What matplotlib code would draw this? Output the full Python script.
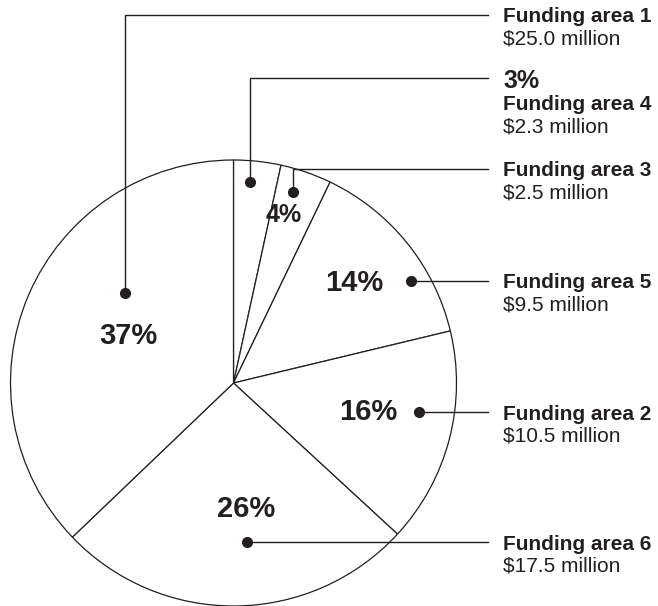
import matplotlib
matplotlib.use('Agg')
from matplotlib import pyplot as plt

plt.rcParams['font.family'] = ['Liberation Sans', 'DejaVu Sans']

# wedges in drawing order, clockwise from 12 o'clock
areas = ['Funding area 4', 'Funding area 3', 'Funding area 5',
         'Funding area 2', 'Funding area 6', 'Funding area 1']
amounts = [2.3, 2.5, 9.5, 10.5, 17.5, 25.0]
pct_labels = ['3%', '4%', '14%', '16%', '26%', '37%']
money_labels = ['$2.3 million', '$2.5 million', '$9.5 million',
                '$10.5 million', '$17.5 million', '$25.0 million']

INK = '#231f20'
W, H = 658, 606

# layout (pixel coords, y down)
pie_center = (233.5, 383)
pie_radius = 223
pct_pos = [None, (284, 215), (354, 283), (368, 412), (246, 509), (128, 336)]
pct_size = [18, 18, 21, 21, 21, 21]
dots = [(250, 182), (293, 192), (411, 281), (419, 412), (247, 542), (125, 293)]
line_y = [78, 169, 281, 412, 542, 15]
line_end = 488
text_x = 503

fig = plt.figure(figsize=(W / 100, H / 100), dpi=100)
ax = fig.add_axes([0, 0, 1, 1])

ax.pie(amounts, startangle=-90, counterclock=True, center=pie_center,
       radius=pie_radius, colors=['white'] * len(amounts),
       wedgeprops=dict(edgecolor=INK, linewidth=0.9))
ax.set_xlim(0, W)
ax.set_ylim(H, 0)
ax.set_aspect('equal')
ax.axis('off')

for i, name in enumerate(areas):
    # percentage inside the slice
    if pct_pos[i] is not None:
        ax.text(pct_pos[i][0], pct_pos[i][1], pct_labels[i], fontsize=pct_size[i],
                fontweight='bold', color=INK, ha='center', va='center')

    # leader line: dot -> up/over -> label
    dx, dy = dots[i]
    ly = line_y[i]
    ax.plot([dx, dx, line_end], [dy, ly, ly], color=INK, linewidth=1.0,
            solid_joinstyle='miter')
    ax.plot(dx, dy, 'o', color=INK, markersize=7)

    base = ly + 7.5
    if pct_pos[i] is None:
        ax.text(text_x, base + 2, pct_labels[i], fontsize=pct_size[i], fontweight='bold',
                color=INK, ha='left', va='baseline')
        base += 25
    ax.text(text_x, base, name, fontsize=15, fontweight='bold', color=INK,
            ha='left', va='baseline')
    ax.text(text_x, base + 22, money_labels[i], fontsize=15, color=INK,
            ha='left', va='baseline')

fig.savefig('out.png', dpi=100)
